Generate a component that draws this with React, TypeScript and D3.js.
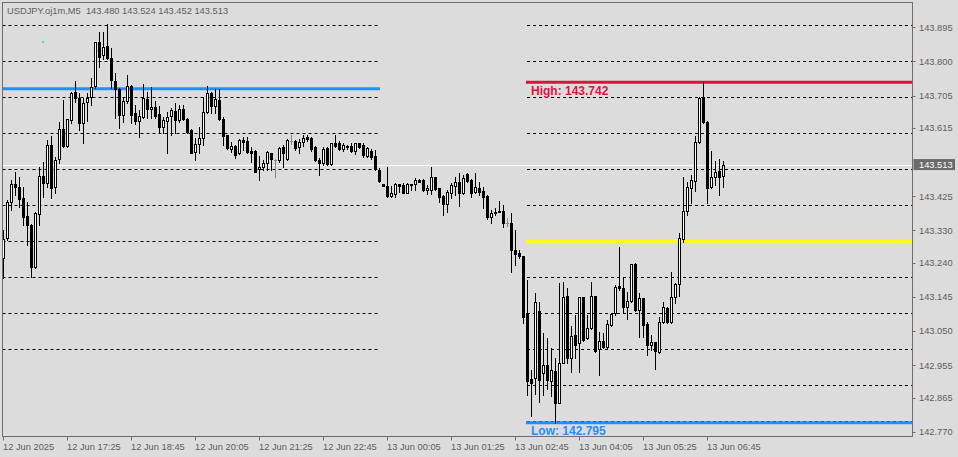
import React from "react";
import * as d3 from "d3";

const W = 958;
const H = 457;

const symbolTitle = "USDJPY.oj1m,M5";
const lastBarQuote = ["143.480", "143.524", "143.452", "143.513"];

// 5-minute candles, 12 Jun 16:05 -> 13 Jun 07:05
const opens = [
  143.253, 143.309, 143.409, 143.459, 143.450, 143.420, 143.370, 143.344, 143.228, 143.376,
  143.481, 143.461, 143.567, 143.450, 143.529, 143.612, 143.565, 143.637, 143.715, 143.698,
  143.628, 143.687, 143.701, 143.731, 143.854, 143.817, 143.843, 143.809, 143.745, 143.723,
  143.650, 143.690, 143.731, 143.656, 143.634, 143.645, 143.696, 143.668, 143.673, 143.653,
  143.617, 143.634, 143.648, 143.662, 143.637, 143.668, 143.639, 143.609, 143.548, 143.570,
  143.587, 143.659, 143.712, 143.676, 143.693, 143.639, 143.595, 143.556, 143.565, 143.545,
  143.581, 143.579, 143.551, 143.551, 143.500, 143.507, 143.518, 143.545, 143.526, 143.526,
  143.562, 143.529, 143.579, 143.579, 143.562, 143.576, 143.590, 143.587, 143.562, 143.526,
  143.518, 143.559, 143.515, 143.573, 143.573, 143.556, 143.565, 143.565, 143.551, 143.573,
  143.567, 143.537, 143.551, 143.537, 143.497, 143.459, 143.453, 143.426, 143.431, 143.459,
  143.456, 143.434, 143.459, 143.459, 143.470, 143.470, 143.442, 143.442, 143.478, 143.448,
  143.426, 143.403, 143.434, 143.453, 143.464, 143.434, 143.486, 143.470, 143.437, 143.448,
  143.439, 143.426, 143.368, 143.381, 143.384, 143.384, 143.351, 143.351, 143.275, 143.267,
  143.259, 143.100, 142.917, 142.920, 143.106, 142.934, 142.956, 142.912, 142.939, 142.850,
  142.961, 143.147, 142.975, 143.040, 143.017, 143.145, 143.030, 143.059, 143.147, 143.000,
  143.022, 143.006, 143.067, 143.100, 143.176, 143.170, 143.117, 143.134, 143.237, 143.109,
  143.142, 143.070, 143.011, 143.019, 142.992, 143.076, 143.114, 143.076, 143.145, 143.181,
  143.306, 143.384, 143.448, 143.467, 143.576, 143.701, 143.631, 143.450, 143.478, 143.495,
  143.480,
];
const highs = [
  143.331, 143.415, 143.470, 143.492, 143.478, 143.450, 143.409, 143.348, 143.381, 143.507,
  143.520, 143.581, 143.592, 143.534, 143.631, 143.693, 143.639, 143.715, 143.745, 143.712,
  143.698, 143.712, 143.754, 143.854, 143.882, 143.882, 143.904, 143.837, 143.767, 143.726,
  143.701, 143.762, 143.734, 143.679, 143.665, 143.737, 143.715, 143.729, 143.690, 143.676,
  143.645, 143.659, 143.671, 143.684, 143.679, 143.679, 143.642, 143.612, 143.587, 143.617,
  143.701, 143.731, 143.715, 143.723, 143.723, 143.645, 143.595, 143.576, 143.567, 143.584,
  143.590, 143.590, 143.562, 143.554, 143.537, 143.526, 143.551, 143.545, 143.529, 143.562,
  143.567, 143.584, 143.595, 143.581, 143.584, 143.595, 143.595, 143.590, 143.565, 143.532,
  143.562, 143.562, 143.573, 143.595, 143.579, 143.573, 143.567, 143.573, 143.573, 143.573,
  143.573, 143.562, 143.556, 143.554, 143.504, 143.459, 143.507, 143.453, 143.461, 143.459,
  143.461, 143.461, 143.459, 143.475, 143.472, 143.472, 143.456, 143.507, 143.478, 143.448,
  143.428, 143.442, 143.461, 143.478, 143.489, 143.484, 143.489, 143.472, 143.489, 143.464,
  143.450, 143.428, 143.387, 143.392, 143.412, 143.401, 143.365, 143.379, 143.331, 143.275,
  143.259, 143.193, 142.942, 143.156, 143.131, 143.045, 143.031, 143.003, 142.975, 143.183,
  143.186, 143.169, 143.064, 143.095, 143.145, 143.145, 143.095, 143.186, 143.147, 143.048,
  143.045, 143.081, 143.100, 143.179, 143.284, 143.201, 143.158, 143.237, 143.239, 143.156,
  143.142, 143.076, 143.040, 143.019, 143.089, 143.131, 143.117, 143.215, 143.183, 143.322,
  143.478, 143.464, 143.484, 143.592, 143.701, 143.742, 143.634, 143.551, 143.523, 143.529,
  143.524,
];
const lows = [
  143.198, 143.303, 143.387, 143.428, 143.395, 143.344, 143.289, 143.201, 143.226, 143.344,
  143.423, 143.450, 143.420, 143.434, 143.518, 143.562, 143.562, 143.628, 143.687, 143.609,
  143.573, 143.634, 143.679, 143.726, 143.784, 143.806, 143.806, 143.726, 143.642, 143.614,
  143.631, 143.684, 143.628, 143.625, 143.590, 143.642, 143.642, 143.642, 143.642, 143.601,
  143.601, 143.545, 143.595, 143.601, 143.631, 143.637, 143.601, 143.545, 143.526, 143.545,
  143.567, 143.656, 143.656, 143.656, 143.637, 143.567, 143.556, 143.548, 143.532, 143.543,
  143.554, 143.545, 143.520, 143.492, 143.470, 143.497, 143.497, 143.497, 143.478, 143.520,
  143.507, 143.526, 143.570, 143.554, 143.545, 143.565, 143.579, 143.551, 143.523, 143.484,
  143.512, 143.512, 143.512, 143.562, 143.554, 143.551, 143.556, 143.548, 143.543, 143.559,
  143.534, 143.534, 143.529, 143.497, 143.464, 143.453, 143.423, 143.423, 143.423, 143.437,
  143.434, 143.434, 143.442, 143.442, 143.464, 143.439, 143.431, 143.431, 143.442, 143.409,
  143.373, 143.381, 143.420, 143.428, 143.398, 143.431, 143.464, 143.423, 143.434, 143.428,
  143.392, 143.362, 143.351, 143.373, 143.381, 143.339, 143.342, 143.215, 143.234, 143.253,
  143.073, 142.872, 142.814, 142.876, 142.853, 142.872, 142.889, 142.869, 142.795, 142.850,
  142.961, 142.961, 142.936, 142.975, 142.936, 143.022, 143.028, 143.056, 142.992, 142.928,
  143.003, 143.000, 143.064, 143.095, 143.165, 143.103, 143.084, 143.131, 143.106, 143.034,
  143.034, 142.983, 142.997, 142.945, 142.989, 143.073, 143.073, 143.073, 143.128, 143.147,
  143.297, 143.373, 143.406, 143.439, 143.573, 143.628, 143.406, 143.448, 143.456, 143.428,
  143.452,
];
const closes = [
  143.306, 143.409, 143.459, 143.450, 143.417, 143.368, 143.344, 143.228, 143.379, 143.481,
  143.461, 143.567, 143.448, 143.526, 143.612, 143.565, 143.639, 143.712, 143.698, 143.628,
  143.684, 143.698, 143.729, 143.854, 143.812, 143.840, 143.809, 143.748, 143.723, 143.650,
  143.690, 143.731, 143.650, 143.634, 143.648, 143.698, 143.668, 143.673, 143.648, 143.617,
  143.637, 143.645, 143.665, 143.637, 143.668, 143.639, 143.603, 143.545, 143.570, 143.587,
  143.659, 143.712, 143.676, 143.696, 143.639, 143.592, 143.559, 143.565, 143.540, 143.581,
  143.576, 143.548, 143.545, 143.492, 143.507, 143.518, 143.548, 143.529, 143.526, 143.559,
  143.545, 143.581, 143.579, 143.559, 143.576, 143.587, 143.584, 143.556, 143.526, 143.518,
  143.556, 143.515, 143.573, 143.565, 143.556, 143.567, 143.562, 143.551, 143.573, 143.562,
  143.540, 143.559, 143.534, 143.500, 143.467, 143.453, 143.426, 143.434, 143.459, 143.453,
  143.434, 143.459, 143.456, 143.470, 143.464, 143.442, 143.448, 143.478, 143.445, 143.423,
  143.403, 143.437, 143.456, 143.464, 143.434, 143.475, 143.467, 143.434, 143.450, 143.437,
  143.423, 143.368, 143.379, 143.379, 143.381, 143.351, 143.351, 143.275, 143.264, 143.259,
  143.089, 142.912, 142.906, 143.131, 142.914, 142.956, 142.914, 142.942, 142.850, 142.961,
  143.145, 142.975, 143.037, 143.011, 143.145, 143.025, 143.059, 143.147, 142.994, 143.022,
  143.006, 143.070, 143.098, 143.173, 143.170, 143.117, 143.134, 143.237, 143.109, 143.142,
  143.067, 143.011, 143.019, 142.994, 143.076, 143.117, 143.076, 143.145, 143.181, 143.309,
  143.384, 143.450, 143.470, 143.576, 143.698, 143.631, 143.448, 143.478, 143.492, 143.478,
  143.513,
];

const timeTickBars = [0, 16, 32, 48, 64, 80, 96, 112, 128, 144, 160, 176];
const timeTickLabels = [
  "12 Jun 2025", "12 Jun 17:25", "12 Jun 18:45", "12 Jun 20:05", "12 Jun 21:25", "12 Jun 22:45",
  "13 Jun 00:05", "13 Jun 01:25", "13 Jun 02:45", "13 Jun 04:05", "13 Jun 05:25", "13 Jun 06:45",
];
const priceTickLabels = [
  "143.895", "143.800", "143.705", "143.615", "143.425", "143.330",
  "143.240", "143.145", "143.050", "142.955", "142.865", "142.770",
];

const currentPrice = 143.513;
const dayHigh = 143.742;
const dayLow = 142.795;
const middleLevel = 143.3;
const previousLevel = 143.724;
const roundLevelsLeft = [143.9, 143.8, 143.7, 143.6, 143.5, 143.4, 143.3, 143.2, 143.1, 143.0];
const roundLevelsRight = [143.9, 143.8, 143.7, 143.6, 143.5, 143.4, 143.3, 143.2, 143.1, 143.0, 142.9, 142.8];

const BG = "#dcdcdc";
const FG = "#5e5e5e";
const FRAME = "#6e6e6e";
const FONT = "'Liberation Sans', Arial, sans-serif";

export default function App() {
  const plotL = 2.5, plotR = 912.5, plotT = 2.5, plotB = 436.5;
  const leftSegEnd = 378;
  const rightSegStart = 527;

  const x = d3.scaleLinear().domain([0, 180]).range([3.5, 723.5]);
  const y = d3.scaleLinear().domain([dayLow, dayHigh]).range([422.8, 82.2]);
  const ry = (v: number) => Math.round(y(v));

  const candles = opens.map((o, i) => {
    const c = closes[i];
    const xc = x(i);
    const yo = ry(o), yc = ry(c), yh = ry(highs[i]), yl = ry(lows[i]);
    const top = Math.min(yo, yc), bot = Math.max(yo, yc);
    const wick = (
      <rect key={"w" + i} x={xc - 0.5} y={yh} width={1} height={Math.max(1, yl - yh + 1)} fill={o === c ? "#7f8a96" : "#000"} />
    );
    if (o === c) {
      return (
        <g key={i}>
          {wick}
          <rect x={xc - 1.5} y={top} width={3} height={1} fill="#7f8a96" />
        </g>
      );
    }
    if (c > o) {
      return (
        <g key={i}>
          {wick}
          <rect x={xc - 1} y={top + 0.5} width={2} height={Math.max(0, bot - top)} fill="#fff" stroke="#000" strokeWidth={1} />
        </g>
      );
    }
    return (
      <g key={i}>
        {wick}
        <rect x={xc - 1.5} y={top} width={3} height={Math.max(1, bot - top + 1)} fill="#000" />
      </g>
    );
  });

  const priceTickValues = priceTickLabels.map(Number);

  return (
    <svg
      width={W}
      height={H}
      viewBox={`0 0 ${W} ${H}`}
      style={{ position: "absolute", left: 0, top: 0, display: "block" }}
      fontFamily={FONT}
    >
      <rect x={0} y={0} width={W} height={H} fill={BG} />

      {/* round-number grid levels */}
      {roundLevelsLeft.map((v) => (
        <line key={"gl" + v} x1={plotL} x2={leftSegEnd} y1={ry(v) + 0.5} y2={ry(v) + 0.5} stroke="#000" strokeDasharray="3,3" />
      ))}
      {roundLevelsRight.map((v) => (
        <line key={"gr" + v} x1={rightSegStart} x2={plotR} y1={ry(v) + 0.5} y2={ry(v) + 0.5} stroke="#000" strokeDasharray="3,3" />
      ))}

      {/* level lines */}
      <line x1={plotL} x2={380} y1={y(previousLevel)} y2={y(previousLevel)} stroke="#1e90ff" strokeWidth={3} />
      <line x1={rightSegStart - 1} x2={plotR} y1={y(dayHigh)} y2={y(dayHigh)} stroke="#dc143c" strokeWidth={3} />
      <line x1={rightSegStart - 1} x2={plotR} y1={y(middleLevel)} y2={y(middleLevel)} stroke="#ffff00" strokeWidth={3} />
      <line x1={rightSegStart - 1} x2={plotR} y1={y(dayLow)} y2={y(dayLow)} stroke="#1e90ff" strokeWidth={3} />

      {/* current price line */}
      <line x1={plotL} x2={plotR} y1={ry(currentPrice) + 0.5} y2={ry(currentPrice) + 0.5} stroke="#fff" strokeWidth={1} />

      {candles}

      <text x={531} y={95} fontSize={12} fontWeight="bold" fill="#dc143c">{`High: ${dayHigh.toFixed(3)}`}</text>
      <text x={531} y={435} fontSize={12} fontWeight="bold" fill="#1e90ff">{`Low: ${dayLow.toFixed(3)}`}</text>

      <rect x={42} y={41} width={2} height={2} fill="#40e0d0" />

      {/* frame */}
      <rect x={plotL} y={plotT} width={plotR - plotL} height={plotB - plotT} fill="none" stroke={FRAME} strokeWidth={1} />

      {/* price axis */}
      {priceTickValues.map((v, i) => (
        <g key={"pt" + i}>
          <line x1={plotR} x2={plotR + 3} y1={ry(v) + 0.5} y2={ry(v) + 0.5} stroke={FRAME} />
          <text x={919} y={y(v) + 3.4} fontSize={9.3} fill={FG}>{priceTickLabels[i]}</text>
        </g>
      ))}
      <rect x={913.5} y={y(currentPrice) - 5.5} width={41.5} height={11} fill="#6b6b6b" />
      <text x={919} y={y(currentPrice) + 3.4} fontSize={9.3} fill="#ffffff">{currentPrice.toFixed(3)}</text>

      {/* time axis */}
      {timeTickBars.map((b, i) => (
        <g key={"tt" + i}>
          <line x1={x(b)} x2={x(b)} y1={plotB} y2={plotB + 4} stroke={FRAME} />
          <text x={x(b) - 0.5} y={449.5} fontSize={9.3} fill={FG}>{timeTickLabels[i]}</text>
        </g>
      ))}

      {/* header */}
      <text x={7} y={14} fontSize={9.3} fill={FG} xmlSpace="preserve">
        {`${symbolTitle}  ${lastBarQuote.join(" ")}`}
      </text>
    </svg>
  );
}
